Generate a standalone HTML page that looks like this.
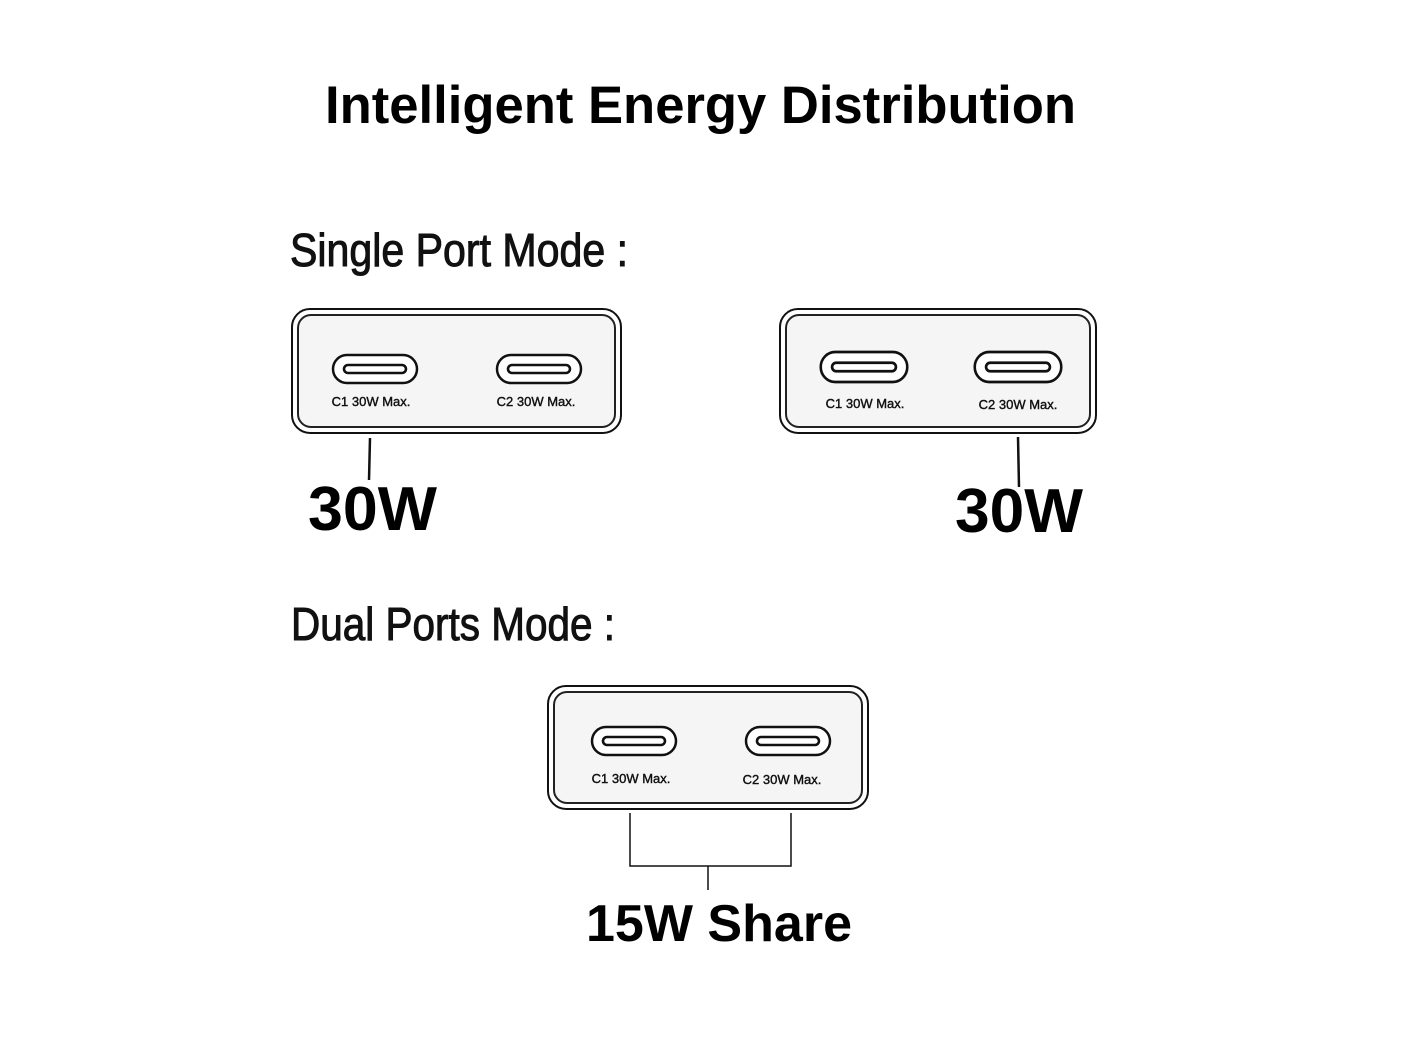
<!DOCTYPE html>
<html><head><meta charset="utf-8"><style>html,body{margin:0;padding:0;background:#fff}svg{display:block}</style></head>
<body>
<svg width="1417" height="1063" viewBox="0 0 1417 1063" xmlns="http://www.w3.org/2000/svg" font-family="Liberation Sans, sans-serif">
<defs>
<g id="port">
  <rect x="-42" y="-14" width="84" height="28" rx="14" fill="#fff" stroke="#111" stroke-width="2.5"/>
  <rect x="-31" y="-4" width="62" height="8" rx="4" fill="#fff" stroke="#111" stroke-width="2.6"/>
</g>
</defs>
<text x="325" y="123" font-size="53" font-weight="bold" textLength="751" lengthAdjust="spacingAndGlyphs">Intelligent Energy Distribution</text>
<text x="290" y="266" font-size="46" textLength="338" lengthAdjust="spacingAndGlyphs" fill="#111" stroke="#111" stroke-width="1">Single Port Mode :</text>

<g stroke="#111" stroke-width="0.4">
<!-- Box 1 -->
<rect x="292" y="309" width="329" height="124" rx="18" fill="#fff" stroke="#111" stroke-width="2"/>
<rect x="298" y="315" width="317" height="112" rx="13" fill="#f5f5f5" stroke="#222" stroke-width="2"/>
<use href="#port" x="375" y="369"/>
<use href="#port" x="539" y="369"/>
<text x="371" y="406" font-size="13" text-anchor="middle" fill="#111">C1 30W Max.</text>
<text x="536" y="406" font-size="13" text-anchor="middle" fill="#111">C2 30W Max.</text>

<!-- Box 2 -->
<rect x="780" y="309" width="316" height="124" rx="18" fill="#fff" stroke="#111" stroke-width="2"/>
<rect x="786" y="315" width="304" height="112" rx="13" fill="#f5f5f5" stroke="#222" stroke-width="2"/>
<use href="#port" transform="translate(864 367) scale(1.03 1.07)"/>
<use href="#port" transform="translate(1018 367) scale(1.03 1.07)"/>
<text x="865" y="408" font-size="13" text-anchor="middle" fill="#111">C1 30W Max.</text>
<text x="1018" y="409" font-size="13" text-anchor="middle" fill="#111">C2 30W Max.</text>

<!-- Box 3 -->
<rect x="548" y="686" width="320" height="123" rx="18" fill="#fff" stroke="#111" stroke-width="2"/>
<rect x="554" y="692" width="308" height="111" rx="13" fill="#f5f5f5" stroke="#222" stroke-width="2"/>
<use href="#port" x="634" y="741"/>
<use href="#port" x="788" y="741"/>
<text x="631" y="783" font-size="13" text-anchor="middle" fill="#111">C1 30W Max.</text>
<text x="782" y="784" font-size="13" text-anchor="middle" fill="#111">C2 30W Max.</text>
</g>

<line x1="370" y1="438" x2="369" y2="480" stroke="#111" stroke-width="2.5"/>
<text x="308" y="530" font-size="62" font-weight="bold" textLength="129" lengthAdjust="spacingAndGlyphs">30W</text>
<line x1="1018" y1="437" x2="1019" y2="487" stroke="#111" stroke-width="2.5"/>
<text x="955" y="532" font-size="62" font-weight="bold" textLength="128" lengthAdjust="spacingAndGlyphs">30W</text>

<text x="291" y="640" font-size="46" textLength="324" lengthAdjust="spacingAndGlyphs" fill="#111" stroke="#111" stroke-width="1">Dual Ports Mode :</text>

<polyline points="630,813 630,866 791,866 791,813" fill="none" stroke="#111" stroke-width="1.5"/>
<line x1="708" y1="866" x2="708" y2="890" stroke="#111" stroke-width="1.5"/>
<text x="586" y="941" font-size="52" font-weight="bold" textLength="266" lengthAdjust="spacingAndGlyphs">15W Share</text>
</svg>
</body></html>
